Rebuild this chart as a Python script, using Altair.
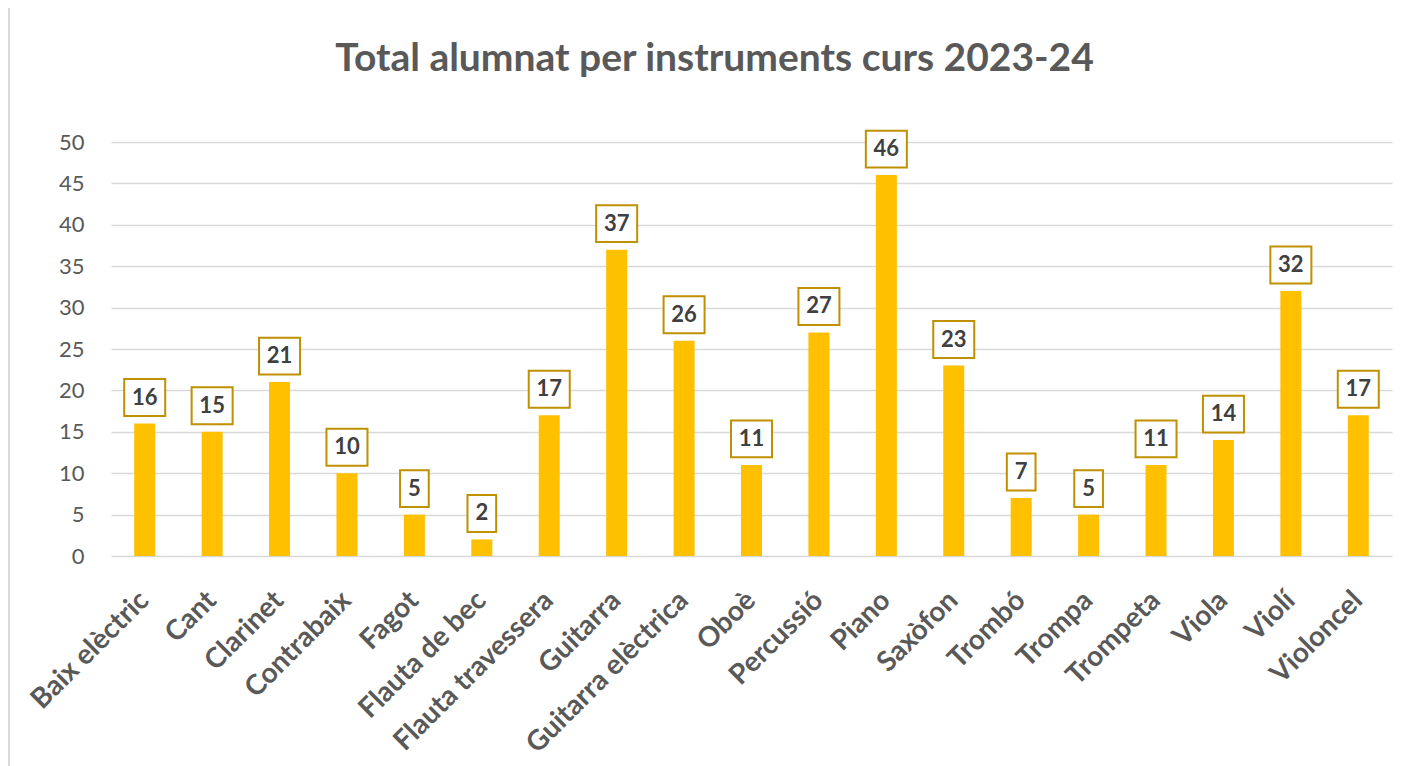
import altair as alt
import pandas as pd

instruments = ["Baix elèctric", "Cant", "Clarinet", "Contrabaix", "Fagot", "Flauta de bec",
               "Flauta travessera", "Guitarra", "Guitarra elèctrica", "Oboè", "Percussió",
               "Piano", "Saxòfon", "Trombó", "Trompa", "Trompeta", "Viola", "Violí", "Violoncel"]
students = [16, 15, 21, 10, 5, 2, 17, 37, 26, 11, 27, 46, 23, 7, 5, 11, 14, 32, 17]

BOX2 = "M-1,-0.9L1,-0.9L1,0.9L-1,0.9Z"
BOX1 = "M-0.7,-0.9L0.7,-0.9L0.7,0.9L-0.7,0.9Z"

df = pd.DataFrame({"Instrument": instruments, "Alumnes": students})
df["box"] = [BOX1 if v < 10 else BOX2 for v in students]

FONT = "Lato"
x = alt.X("Instrument:N", sort=instruments, title=None,
          scale=alt.Scale(paddingInner=0, paddingOuter=0),
          axis=alt.Axis(labelAngle=-45, labelAlign="right", labelBaseline="middle",
                        labelFontSize=28, labelFontWeight="bold", labelColor="#595959",
                        labelFont=FONT, labelPadding=40, domain=False, ticks=False,
                        grid=False, labelLimit=400))
y = alt.Y("Alumnes:Q", title=None,
          scale=alt.Scale(domain=[0, 50]),
          axis=alt.Axis(values=list(range(0, 51, 5)), labelFontSize=22, labelColor="#595959",
                        labelFont=FONT, labelPadding=27, domain=False, ticks=False,
                        gridColor="#D9D9D9", gridWidth=1.5))

frame = alt.Chart(df).mark_rect(fill=None, stroke="#D9D9D9", strokeWidth=2).encode(
    x=alt.value(-102), x2=alt.value(1310), y=alt.value(-135), y2=alt.value(800))
bars = alt.Chart(df).mark_bar(color="#FFC000", size=21).encode(x=x, y=y)
boxes = alt.Chart(df).mark_point(filled=False, fill="white", fillOpacity=1,
                                 stroke="#BF9000", strokeWidth=2, size=1681,
                                 yOffset=-26, opacity=1).encode(
    x=x, y=y, shape=alt.Shape("box:N", scale=None))
labels = alt.Chart(df).mark_text(dy=-26, fontSize=22, fontWeight="bold", color="#404040",
                                 font=FONT, baseline="middle").encode(
    x=x, y=y, text="Alumnes:Q")

chart = alt.layer(frame, bars, boxes, labels).properties(
    width=1281, height=414,
    background="white",
    title=alt.TitleParams("Total alumnat per instruments curs 2023-24", fontSize=39,
                          font=FONT, fontWeight="bold", color="#595959",
                          anchor="middle", offset=-73, dx=-37),
    autosize=alt.AutoSizeParams(type="none"),
    padding={"left": 103, "top": 134, "right": 5, "bottom": 230},
).configure_view(strokeWidth=0, stroke=None)

chart.save("out.html", embed_options={"renderer": "svg", "actions": False})
